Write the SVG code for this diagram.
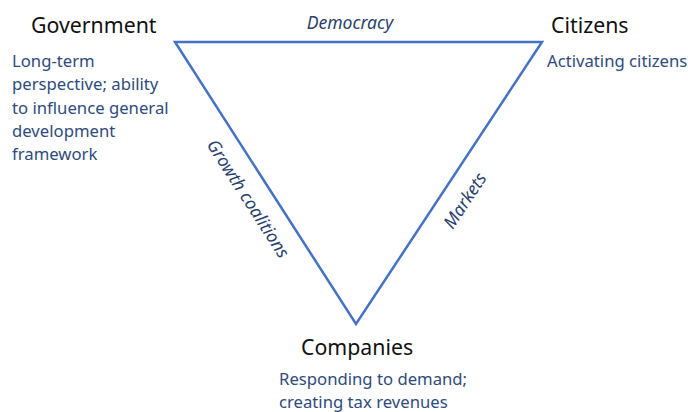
<svg xmlns="http://www.w3.org/2000/svg" width="688" height="412" viewBox="0 0 688 412">
<style>
.h{font-family:"Noto Sans","Open Sans",sans-serif;font-size:21.3px;fill:#111}
.d{font-family:"Noto Sans","Open Sans",sans-serif;font-size:16.7px;fill:#2F4B7C}
.e{font-family:"Noto Sans","Open Sans",sans-serif;font-size:17.6px;font-style:italic;fill:#2A3F6E}
.ln{fill:none;stroke:#4472C4;stroke-width:2.5;stroke-linejoin:miter}
</style>
<rect width="688" height="412" fill="#fff"/>
<g id="connectors">
<polygon class="ln" points="175,42 542,42 356,324"/>
<text class="e" x="350" y="29" text-anchor="middle">Democracy</text>
<text class="e" text-anchor="middle" transform="translate(243,202) rotate(57.3)">Growth coalitions</text>
<text class="e" text-anchor="middle" transform="translate(470,204) rotate(-56.6)">Markets</text>
</g>
<g id="government">
<text class="h" x="31" y="33">Government</text>
<text class="d" x="12" y="67">Long-term</text>
<text class="d" x="12" y="90">perspective; ability</text>
<text class="d" x="12" y="113.5">to influence general</text>
<text class="d" x="12" y="137">development</text>
<text class="d" x="12" y="160">framework</text>
</g>
<g id="citizens">
<text class="h" x="551" y="33">Citizens</text>
<text class="d" x="547" y="67">Activating citizens</text>
</g>
<g id="companies">
<text class="h" x="301" y="355">Companies</text>
<text class="d" x="279" y="385">Responding to demand;</text>
<text class="d" x="279" y="408">creating tax revenues</text>
</g>
</svg>
